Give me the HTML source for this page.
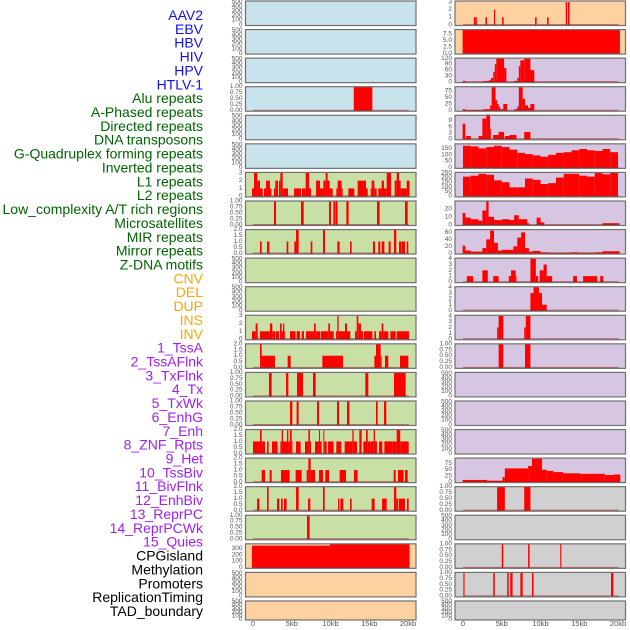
<!DOCTYPE html>
<html><head><meta charset="utf-8"><style>
html,body{margin:0;padding:0;background:#fff;width:630px;height:630px;overflow:hidden}
svg{display:block;font-family:"Liberation Sans",sans-serif}
</style></head><body>
<svg id="chart" width="630" height="630" viewBox="0 0 630 630" xmlns="http://www.w3.org/2000/svg"></svg>
<script>
// ---- data ----
const trackLabels = ["AAV2","EBV","HBV","HIV","HPV","HTLV-1","Alu repeats","A-Phased repeats","Directed repeats","DNA transposons","G-Quadruplex forming repeats","Inverted repeats","L1 repeats","L2 repeats","Low_complexity A/T rich regions","Microsatellites","MIR repeats","Mirror repeats","Z-DNA motifs","CNV","DEL","DUP","INS","INV","1_TssA","2_TssAFlnk","3_TxFlnk","4_Tx","5_TxWk","6_EnhG","7_Enh","8_ZNF_Rpts","9_Het","10_TssBiv","11_BivFlnk","12_EnhBiv","13_ReprPC","14_ReprPCWk","15_Quies","CPGisland","Methylation","Promoters","ReplicationTiming","TAD_boundary"];
const labelColors = ["#1010ee","#006400","#ffa500","#a020f0","#000000"];
const labelGroup = [0,0,0,0,0,0,1,1,1,1,1,1,1,1,1,1,1,1,1,2,2,2,2,2,3,3,3,3,3,3,3,3,3,3,3,3,3,3,3,4,4,4,4,4];
const xTickKb = [0,5,10,15,20];
const xTickLabels = ["0","5kb","10kb","15kb","20kb"];
const T500 = [0,100,200,300,400,500];
const T1 = [0,0.25,0.5,0.75,1];
const T1L = ["0.00","0.25","0.50","0.75","1.00"];
const T2 = [0,0.5,1,1.5,2];
const T2L = ["0.0","0.5","1.0","1.5","2.0"];
const T3 = [0,1,2,3];
const T4 = [0,1,2,3,4];
// segments: [startKb, endKb, value]
const segHIVleft = [[13.0,15.4,1]];
const segRow6Left = [[-0.13,0.13,1],[0.13,0.56,3],[0.56,0.9,2],[0.9,1.25,1],[1.42,1.68,1],[1.68,2.19,2],[2.19,2.37,1],[2.71,2.88,1],[2.88,3.23,2],[3.35,3.53,2],[3.53,3.83,3],[3.83,4.52,1],[5.29,6.19,1],[6.32,6.8,1],[6.8,7.23,3],[7.23,7.48,1],[8.13,8.65,2],[8.65,9.08,1],[9.08,9.38,2],[9.38,9.63,3],[9.63,9.89,2],[9.89,10.28,1],[10.75,10.92,1],[10.92,11.44,2],[11.44,11.57,1],[12.3,13.08,1],[13.5,14.58,2],[14.58,14.8,1],[15.18,15.31,1],[15.31,15.66,2],[15.66,15.96,1],[16.17,16.6,1],[16.6,16.9,2],[16.9,17.25,1],[17.25,17.81,3],[18.28,18.54,2],[18.54,18.84,3],[18.84,19.05,2],[19.05,19.83,1],[19.83,20.2,2]];
const segRow7Left = [[2.71,2.97,1],[6.19,6.54,1],[9.81,10.06,1],[10.37,10.62,1],[10.67,10.92,1],[12.04,12.34,1],[16.0,16.34,1],[19.61,19.96,1]];
const segRow8Left = [[0.9,1.12,1],[1.81,2.11,1],[4.34,4.56,1],[5.33,5.55,1],[5.55,5.89,2],[7.44,7.66,1],[9.03,9.29,2],[10.88,11.18,1],[12.52,12.73,1],[15.48,15.74,1],[16.17,16.43,1],[16.6,16.95,1],[17.5,17.76,1],[18.19,18.49,2],[18.84,19.14,1],[19.18,19.61,1],[19.83,20.04,1]];
const segRow11Left = [[-0.13,0.34,1],[0.34,0.6,2],[0.9,2.19,1],[2.19,2.49,2],[2.49,2.84,1],[2.92,3.35,1],[3.48,3.7,2],[3.7,3.87,1],[3.87,4.04,2],[4.04,4.13,1],[4.77,5.5,1],[5.63,6.06,1],[6.28,6.58,1],[6.84,7.87,1],[7.87,8.09,2],[8.09,8.69,1],[8.77,9.72,1],[9.72,9.94,2],[9.94,10.41,1],[10.71,10.88,1],[10.88,11.05,3],[11.05,11.87,1],[11.87,12.13,2],[12.13,12.56,1],[13.16,13.38,1],[13.38,13.59,3],[13.59,13.94,2],[13.94,14.19,1],[14.32,15.4,1],[15.66,15.87,1],[16.26,16.6,1],[16.6,16.82,2],[16.82,17.46,1],[17.72,18.41,1],[18.54,19.61,1],[19.61,20.13,1]];
const segRow12Left = [[0.9,1.12,2],[1.12,2.84,1],[4.47,4.86,1],[8.95,11.61,1],[15.66,15.87,1],[15.87,16.47,2],[16.47,16.6,1],[17.03,17.46,1],[18.97,20.04,1]];
const segRow13Left = [[2.06,2.41,1],[4.26,4.56,1],[5.68,6.45,1],[7.74,8.09,1],[14.49,14.88,1],[18.19,19.7,1]];
const segRow14Left = [[4.77,5.08,1],[5.63,5.89,1],[8.26,8.52,1],[10.84,11.1,1],[12.13,12.43,1],[15.87,16.09,1],[16.9,17.2,1]];
const segRow15Left = [[0,0.9,1],[0.9,1.12,2],[1.12,1.55,1],[1.81,2.02,1],[2.45,3.18,1],[3.53,3.7,1],[3.7,3.87,2],[3.87,4.39,1],[4.39,4.56,2],[4.56,4.77,1],[4.77,4.99,2],[4.99,5.08,1],[5.55,6.15,1],[6.71,7.14,1],[7.14,7.35,2],[7.35,7.48,1],[8.0,8.52,1],[8.52,8.65,2],[8.65,8.86,1],[9.08,9.2,2],[9.2,9.51,1],[9.68,10.41,1],[10.75,11.4,1],[11.83,12.39,1],[12.39,12.82,1],[12.82,12.99,2],[12.99,13.42,1],[13.72,14.02,2],[14.24,14.58,1],[14.58,14.8,2],[14.8,15.14,1],[15.14,15.57,1],[15.57,15.74,2],[15.74,16.0,1],[16.26,16.69,1],[16.95,17.98,1],[17.98,18.54,1],[18.54,19.0,2],[19.0,20.09,1]];
const segRow16Left = [[1.12,1.55,1],[2.15,2.41,1],[3.61,4.73,1],[5.5,6.28,1],[6.92,7.14,1],[7.14,7.44,2],[7.44,8.0,1],[8.52,9.03,1],[9.33,9.81,1],[11.18,12.0,1],[13.03,13.5,1],[18.15,18.41,1],[18.71,19.44,1],[19.61,19.96,1]];
const segRow17Left = [[0.52,0.82,1],[1.81,2.02,2],[3.1,3.4,1],[3.61,3.83,1],[4.0,4.34,1],[5.55,5.89,2],[7.1,7.4,1],[9.03,9.25,2],[10.97,11.14,1],[11.27,11.66,1],[12.52,12.73,1],[15.31,15.7,1],[16.65,17.25,1],[18.19,18.49,2],[18.49,18.75,1],[18.84,19.61,1],[19.87,20.09,1]];
const segRow18Left = [[6.97,7.31,1]];
const segRow19Left = [[-0.13,9.94,342],[9.94,20.2,370]];
const segAAV = [[1.4,1.6,1],[1.62,1.78,1],[2.9,3.1,1],[4.0,4.15,2],[5.05,5.25,1],[9.3,9.5,1],[10.85,11.05,1],[13.25,13.45,3],[13.55,13.75,3]];
const segEBV = [[-0.05,20.25,9.3]];
const segHIV = [[-0.05,0.3,5],[2.6,3.3,4],[3.3,3.6,8],[3.6,3.9,20],[3.9,4.1,50],[4.1,4.3,90],[4.3,5.3,120],[5.3,5.6,70],[6.6,7.0,5],[7.0,7.2,20],[7.2,7.4,80],[7.4,7.9,110],[7.9,8.7,120],[8.7,9.2,60]];
const segAlu = [[-0.05,0.3,5],[0.3,2.6,2],[2.6,3.5,5],[3.5,3.7,20],[3.7,4.2,90],[4.2,4.4,40],[4.4,4.6,25],[4.6,4.8,15],[4.8,5.2,5],[5.2,5.7,25],[6.6,7.0,5],[7.0,7.2,15],[7.2,7.7,90],[7.7,8.0,45],[8.0,8.4,20],[8.4,8.7,10],[8.7,9.2,25]];
const segDirected = [[-0.05,0.3,7.5],[0.4,1.0,1.5],[2.0,2.5,1.5],[2.5,3.0,10],[3.0,3.5,12],[3.5,3.6,5],[3.9,4.6,2],[4.6,5.3,3.5],[5.4,6.0,1.5],[6.0,6.9,2],[7.9,8.7,3.5]];
const binsG4 = [170,165,150,160,170,160,140,115,105,95,85,100,115,120,135,145,135,130,145,120];
const binsL1 = [210,220,240,230,170,150,95,95,190,175,130,140,200,240,240,220,210,250,235,250];
const segLow = [[-0.05,0.3,15],[0.3,1,9],[1,2,7],[2,2.5,5],[2.5,3,18],[3,3.3,30],[3.3,4,10],[4,5,6],[5,6,7],[6,6.6,6],[6.6,7.2,12],[7.2,8.3,7],[8.3,8.5,2],[9.5,10,9],[10,10.5,3],[18,20.2,2]];
const segMIR = [[-0.05,0.3,22],[0.3,1,8],[1,2.5,5],[2.5,3,15],[3,3.5,40],[3.5,4,65],[4,4.5,30],[4.5,5,8],[5,6.5,10],[6.5,7,20],[7,7.5,45],[7.5,8,60],[8,8.5,15],[8.5,9,5],[9,10,7],[10,11,3],[11,14,2],[14,15,3],[15,17,2],[17,18,3],[18,20.2,6]];
const segMirror = [[0.5,1.3,1],[2.5,3.2,2],[3.9,4.6,1],[5.9,6.2,1],[6.2,6.8,2],[6.8,6.9,1],[8.7,9.4,4],[9.4,9.7,1],[9.9,10.4,2],[10.4,10.8,3],[10.8,11.5,1],[14.2,14.7,1],[15.5,17.3,1],[17.7,18.1,1]];
const segZDNA = [[8.7,9.1,3],[9.1,9.8,4],[9.8,10.2,3],[10.2,10.8,1]];
const segCNV = [[4.4,4.6,2],[4.6,5.2,4],[7.9,8.1,2],[8.1,8.7,4]];
const segDEL = [[4.6,5.2,1],[8.0,8.7,1]];
const segReprPC = [[-0.05,3.1,8],[3.1,5.1,5],[5.1,5.4,20],[5.4,8.4,55],[8.4,8.9,65],[8.9,10.2,95],[10.2,10.8,50],[10.8,11.7,45],[11.7,12.9,40],[12.9,15.1,35],[15.1,18.3,33],[18.3,19.4,28],[19.4,20.3,30]];
const segReprPCWk = [[4.4,5.4,1],[7.9,8.7,1]];
const segMethyl = [[5.0,5.2,1],[8.4,8.6,1],[12.55,12.7,1]];
const segPromoters = [[0.05,0.2,1],[3.9,4.1,1],[5.7,5.9,1],[6.1,6.4,1],[7.4,7.7,1],[8.9,9.1,1],[19.1,19.4,1]];

function binsToSegs(b){return b.map((v,i)=>[i,i+1,v]);}
// panels: [column,row,bg,ticks,tickLabels,ymax,segs]
const BG = {b:"#c8e3eb",g:"#c8e0a6",p:"#ffd0a0",l:"#d6c6e2",y:"#d0d0d0"};
const panels = [
[0,0,"b",T500,null,520,null],[0,1,"b",T500,null,520,null],[0,2,"b",T500,null,520,null],
[0,3,"b",T1,T1L,1.0,segHIVleft],[0,4,"b",T500,null,520,null],[0,5,"b",T500,null,520,null],
[0,6,"g",T3,null,3.05,segRow6Left],[0,7,"g",T1,T1L,1.0,segRow7Left],[0,8,"g",T2,T2L,2.0,segRow8Left],
[0,9,"g",T500,null,520,null],[0,10,"g",T500,null,520,null],[0,11,"g",T3,null,3.05,segRow11Left],
[0,12,"g",T2,T2L,2.0,segRow12Left],[0,13,"g",T1,T1L,1.0,segRow13Left],[0,14,"g",T1,T1L,1.0,segRow14Left],
[0,15,"g",T2,T2L,2.0,segRow15Left],[0,16,"g",T2,T2L,2.0,segRow16Left],[0,17,"g",T2,T2L,2.0,segRow17Left],
[0,18,"g",T1,T1L,1.0,segRow18Left],[0,19,"p",[0,100,200,300],null,370,segRow19Left],
[0,20,"p",T500,null,520,null],[0,21,"p",T500,null,520,null],
[1,0,"p",T3,null,3.15,segAAV],[1,1,"p",[0,2.5,5,7.5],["0.0","2.5","5.0","7.5"],9.3,segEBV],
[1,2,"l",[0,30,60,90,120],null,121,segHIV],[1,3,"l",[0,25,50,75],null,92,segAlu],
[1,4,"l",[0,3,6,9],null,11.6,segDirected],[1,5,"l",[0,50,100,150],null,185,binsToSegs(binsG4)],
[1,6,"l",[0,50,100,150,200,250],null,255,binsToSegs(binsL1)],[1,7,"l",[0,10,20],null,30,segLow],
[1,8,"l",[0,20,40,60],null,68,segMIR],[1,9,"l",T4,null,4.1,segMirror],[1,10,"l",T4,null,4.1,segZDNA],
[1,11,"l",T4,null,4.1,segCNV],[1,12,"l",T1,T1L,1.0,segDEL],[1,13,"l",T500,null,520,null],
[1,14,"l",T500,null,520,null],[1,15,"l",T500,null,520,null],[1,16,"l",[0,25,50,75],null,97,segReprPC],
[1,17,"y",T1,T1L,1.0,segReprPCWk],[1,18,"y",T500,null,520,null],[1,19,"y",T1,T1L,1.0,segMethyl],
[1,20,"y",T1,T1L,1.0,segPromoters],[1,21,"y",T500,null,520,null]
];
// ---- drawing ----
const NS="http://www.w3.org/2000/svg";
const svg=document.getElementById("chart");
function mk(tag,attrs,parent){const e=document.createElementNS(NS,tag);for(const k in attrs)e.setAttribute(k,attrs[k]);(parent||svg).appendChild(e);return e;}
const colLeft=[245.5,455], colW=170.5, zeroX=[253,463], pxPerKb=7.75;
function xs(col,kb){return zeroX[col]+kb*pxPerKb;}
function rowTop(r){return 1+r*28.57;}
function rowH(r){return r===21?19:24.5;}

trackLabels.forEach((t,i)=>{
  const el=mk("text",{x:203,y:15+i*13.86,"text-anchor":"end","dominant-baseline":"central","font-size":"14px",fill:labelColors[labelGroup[i]]});
  el.textContent=t;
  
  
});

panels.forEach((p,idx)=>{
  const [col,row,bg,ticks,tl,ymax,segs]=p;
  const x0=colLeft[col], top=rowTop(row), h=rowH(row), bot=top+h;
  const ymin=-0.03*ymax;
  const ys=v=>bot-(v-ymin)/(ymax-ymin)*h;
  const g=mk("g",{});
  
  
  mk("rect",{x:x0,y:top,width:colW,height:h,fill:BG[bg]},g);
  if(segs){
    segs.forEach(s=>{
      const r=mk("rect",{x:xs(col,s[0]),y:ys(s[2]),width:Math.max(0.8,xs(col,s[1])-xs(col,s[0])),height:ys(0)-ys(s[2])+0.5,fill:"#ff0000"},g);
      
      
    });
    mk("line",{x1:xs(col,0),x2:xs(col,20.1),y1:ys(0),y2:ys(0),stroke:"rgba(170,20,20,0.55)","stroke-width":1.6},g);
  }
  mk("rect",{x:x0,y:top,width:colW,height:h,fill:"none",stroke:"#707070","stroke-width":1.2},g);
  ticks.forEach((t,i)=>{
    const tx=mk("text",{x:x0-3,y:ys(t),"text-anchor":"end","dominant-baseline":"central","font-size":"6.5px",fill:"#555"},g);
    tx.textContent=tl?tl[i]:String(t);
    
    
  });
});

[0,1].forEach(col=>{
  xTickKb.forEach((k,i)=>{
    const t=mk("text",{x:xs(col,k),y:626,"text-anchor":"middle","font-size":"7.5px",fill:"#555"});
    t.textContent=xTickLabels[i];
    
    
  });
});
</script>
</body></html>
